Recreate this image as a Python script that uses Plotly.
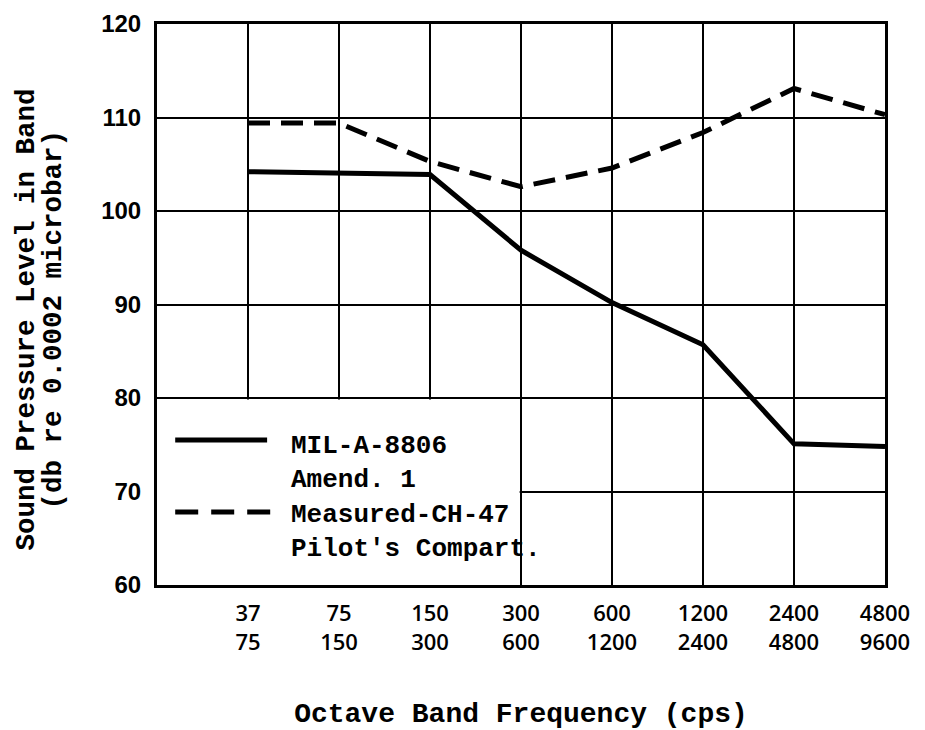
import plotly.graph_objects as go

band_low = ["37", "75", "150", "300", "600", "1200", "2400", "4800"]
band_high = ["75", "150", "300", "600", "1200", "2400", "4800", "9600"]
positions = [0, 1, 2, 3, 4, 5, 6, 7]
mil_spec = [104.2, 104.0, 103.9, 95.8, 90.2, 85.7, 75.1, 74.8]
measured = [109.4, 109.4, 105.3, 102.6, 104.6, 108.4, 113.1, 110.3]
y_ticks = [60, 70, 80, 90, 100, 110, 120]

tick_text = [f"{a}<br>{b}" for a, b in zip(band_low, band_high)]
mono = "Liberation Mono"

fig = go.Figure()
fig.add_trace(go.Scatter(x=positions, y=mil_spec, mode="lines",
                         line=dict(color="black", width=5), showlegend=False,
                         cliponaxis=False))
fig.add_trace(go.Scatter(x=positions, y=measured, mode="lines",
                         line=dict(color="black", width=5, dash="22px,11px"),
                         showlegend=False, cliponaxis=False))

# white legend panel (covers the grid in the lower-left cell block)
fig.add_shape(type="rect", x0=-1, x1=2.985, y0=60, y1=79.85, layer="between",
              fillcolor="white", line=dict(width=0))
# legend samples
fig.add_shape(type="line", x0=-0.80, x1=0.21, y0=75.5, y1=75.5,
              line=dict(color="black", width=5))
fig.add_shape(type="line", x0=-0.80, x1=0.26, y0=67.8, y1=67.8,
              line=dict(color="black", width=5, dash="23px,13px"))
fig.add_annotation(x=0.45, y=73.0, xanchor="left", yanchor="middle", showarrow=False,
                   text="MIL-A-8806<br>Amend. 1", align="left",
                   font=dict(family=mono, size=26, color="black", weight="bold"))
fig.add_annotation(x=0.45, y=65.7, xanchor="left", yanchor="middle", showarrow=False,
                   text="Measured-CH-47<br>Pilot's Compart.", align="left",
                   font=dict(family=mono, size=26, color="black", weight="bold"))

# y-axis title (two lines, set close together as in the original)
y_title_lines = ["Sound Pressure Level in Band", "(db re 0.0002 microbar)"]
for line_text, shift in zip(y_title_lines, [-131, -104]):
    fig.add_annotation(xref="paper", yref="paper", x=0, y=0.5, xshift=shift, yshift=-15,
                       xanchor="center", yanchor="middle", textangle=-90,
                       showarrow=False, text=line_text,
                       font=dict(family=mono, size=27.5, color="black", weight="bold"))

fig.update_layout(
    width=925, height=730,
    margin=dict(l=157, r=40, t=24, b=145),
    paper_bgcolor="white", plot_bgcolor="white",
    font=dict(color="black"),
)
fig.update_xaxes(
    range=[-1, 7], tickvals=positions, ticktext=tick_text, automargin=False,
    showgrid=True, gridcolor="black", gridwidth=2,
    showline=True, linecolor="black", linewidth=3, mirror=True,
    ticks="", ticklabelstandoff=7, zeroline=False,
    tickfont=dict(family="Open Sans", size=22, color="black", weight=600),
    title=dict(text="Octave Band Frequency (cps)", standoff=48,
               font=dict(family=mono, size=28, color="black", weight="bold")),
)
fig.update_yaxes(
    range=[60, 120], tickvals=y_ticks, automargin=False,
    showgrid=True, gridcolor="black", gridwidth=2,
    showline=True, linecolor="black", linewidth=3, mirror=True,
    ticks="", ticklabelstandoff=8, zeroline=False,
    tickfont=dict(family="Liberation Sans", size=24, color="black", weight="bold"),
)
fig.write_html("out.html")
